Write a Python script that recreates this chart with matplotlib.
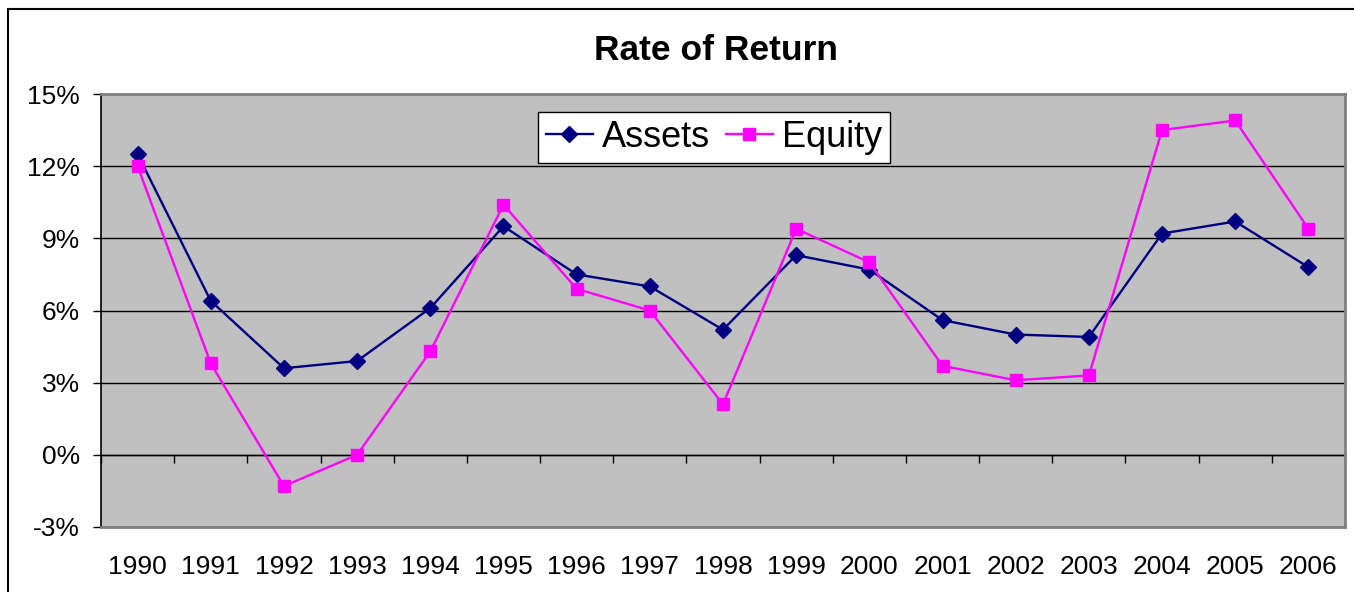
import matplotlib
matplotlib.use("Agg")
import matplotlib.pyplot as plt
from matplotlib.patches import Rectangle
from matplotlib.ticker import FuncFormatter
import numpy as np

years = ["1990", "1991", "1992", "1993", "1994", "1995", "1996", "1997", "1998",
         "1999", "2000", "2001", "2002", "2003", "2004", "2005", "2006"]
assets = [12.5, 6.4, 3.6, 3.9, 6.1, 9.5, 7.5, 7.0, 5.2, 8.3, 7.7, 5.6, 5.0, 4.9, 9.2, 9.7, 7.8]
equity = [12.0, 3.8, -1.3, 0.0, 4.3, 10.4, 6.9, 6.0, 2.1, 9.4, 8.0, 3.7, 3.1, 3.3, 13.5, 13.9, 9.4]
yticks = [-3, 0, 3, 6, 9, 12, 15]

plt.rcParams['font.family'] = ['Liberation Sans', 'DejaVu Sans']

W, H = 1354, 592
fig = plt.figure(figsize=(W / 100, H / 100), dpi=100)
fig.patch.set_facecolor('white')

# chart area border
fig.add_artist(Rectangle((8 / W, -0.1), 1.2, 1 - 9 / H + 0.1, transform=fig.transFigure,
                         fill=False, edgecolor='black', linewidth=1.5))

ax = fig.add_axes([101 / W, 1 - 527 / H, (1345 - 101) / W, (527 - 94) / H])
ax.set_facecolor('#C0C0C0')
n = len(years)
x = np.arange(n)
ax.set_xlim(-0.5, n - 0.5)
ax.set_ylim(-3, 15)

ax.yaxis.grid(True, color='black', linewidth=1.0)
ax.set_axisbelow(True)

ax.plot(x, assets, color='#000080', marker='D', markersize=8.3, linewidth=1.7,
        label='Assets', zorder=3)
ax.plot(x, equity, color='#FF00FF', marker='s', markersize=9.3, linewidth=1.7,
        label='Equity', zorder=3)

ax.set_yticks(yticks)
ax.yaxis.set_major_formatter(FuncFormatter(lambda v, p: f"{v:.0f}%"))
ax.tick_params(axis='y', direction='out', length=6, width=1, color='black',
               labelsize=19, pad=9)
ax.set_xticks(x)
ax.set_xticklabels(years)
ax.tick_params(axis='x', length=0, labelsize=19, pad=20)

for s in ['top', 'right', 'bottom']:
    ax.spines[s].set_color('#808080')
    ax.spines[s].set_linewidth(2)
ax.spines['left'].set_color('black')
ax.spines['left'].set_linewidth(1.2)

# category axis at 0%
sec = ax.secondary_xaxis(3 / 18)
sec.set_alignment('bottom')
sec.set_xticks(np.arange(n + 1) - 0.5)
sec.tick_params(axis='x', direction='out', length=6, width=1, color='black',
                labelbottom=False, labeltop=False)
sec.spines['bottom'].set_color('black')
sec.spines['bottom'].set_linewidth(1.0)

leg = ax.legend(loc='upper left', bbox_to_anchor=(0.351, 0.958), borderaxespad=0,
                ncol=2, fontsize=26, handlelength=1.3, handletextpad=0.25,
                columnspacing=0.45, borderpad=0.22, fancybox=False, framealpha=1,
                edgecolor='black', facecolor='white')
leg.get_frame().set_linewidth(1.0)

fig.text(716.5 / W, 1 - 50 / H, "Rate of Return", ha='center', va='center',
         fontsize=25.5, fontweight='bold')

fig.savefig("out.png", dpi=100)
